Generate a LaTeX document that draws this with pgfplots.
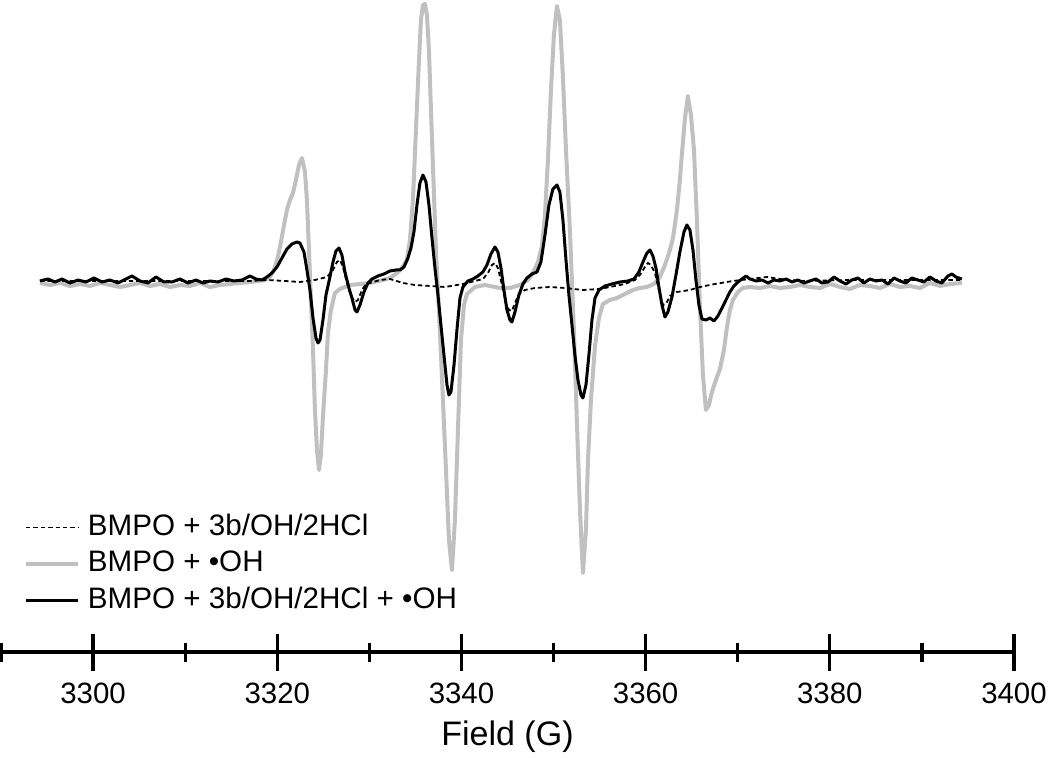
\documentclass[border=0pt]{standalone}
\usepackage{pgfplots}
\pgfplotsset{compat=1.18}
\usepackage{fontspec}
\setmainfont{Liberation Sans}
\definecolor{lgray}{RGB}{192,192,192}
\begin{document}
\begin{tikzpicture}
\useasboundingbox (0,0) rectangle (525pt,378.5pt);
\begin{axis}[
  at={(0.5pt,52.5pt)}, anchor=south west,
  scale only axis, width=506.5pt, height=326pt,
  xmin=3290, xmax=3400, ymin=-370, ymax=282,
  axis x line*=bottom, axis y line=none,
  clip=false,
  scaled x ticks=false,
  xtick={3300,3320,...,3400},
  minor xtick={3290,3310,...,3390},
  tick align=center,
  major tick length=18.5pt, minor tick length=9.5pt,
  every tick/.style={black, line width=1.6pt},
  axis line style={black, line width=1.8pt},
  /pgf/number format/assume math mode=true,
  /pgf/number format/1000 sep={},
  xticklabel style={font=\fontsize{14.7}{17}\selectfont, anchor=base, yshift=-16.5pt},
  xlabel={Field (G)},
  xlabel style={font=\fontsize{17}{20}\selectfont, at={(axis description cs:0.5,0)}, anchor=base, yshift=-46.5pt},
  legend style={at={(0.0227,0.219)}, anchor=north west, draw=none, fill=none,
    inner sep=0pt, outer sep=0pt, font=\fontsize{14.8}{17}\selectfont,
    nodes={inner sep=2.5pt, text height=10.6pt, text depth=2.65pt},
    row sep=0pt, column sep=1.5pt},
  legend cell align=left,
  legend image code/.code={\draw[#1] (0pt,0pt) -- (26pt,0pt);},
]
% BMPO + .OH (gray)
\addplot[lgray, line width=2pt, line join=round, forget plot] table {
3294.23 -1
3295.32 -3
3296.40 -1
3297.49 -4
3298.58 -2
3299.66 -4
3300.75 -1
3301.83 -3
3302.92 -5
3304.01 -3
3305.09 -1
3306.18 -4
3307.26 -2
3308.35 -5
3309.43 -3
3310.52 -4
3311.61 -1
3312.69 -5
3313.78 -3
3314.86 -2
3315.95 -1
3317.04 0
3317.90 1
3318.66 2
3319.21 5
3319.64 12
3320.07 25
3320.40 40
3320.73 57
3321.05 72
3321.38 82
3321.70 89
3322.03 102
3322.36 117
3322.68 124
3323.01 110
3323.22 82
3323.44 32
3323.66 -18
3323.88 -68
3324.09 -128
3324.31 -168
3324.53 -188
3324.74 -173
3324.96 -135
3325.29 -88
3325.50 -51
3325.83 -28
3326.26 -11
3326.81 -7
3327.35 -5
3327.89 -3
3328.98 -2
3330.06 -1
3331.48 2
3332.24 4
3333.00 9
3333.54 14
3334.08 22
3334.41 42
3334.73 82
3335.06 152
3335.39 222
3335.60 262
3335.82 277
3336.04 278
3336.25 267
3336.47 232
3336.69 172
3336.91 115
3337.23 32
3337.67 -51
3337.99 -118
3338.32 -188
3338.64 -258
3338.97 -288
3339.29 -238
3339.62 -148
3339.95 -58
3340.27 -23
3340.60 -12
3341.47 -5
3342.55 -3
3344.18 -6
3345.27 -6
3346.35 -3
3347.22 2
3347.76 9
3348.31 20
3348.74 36
3349.07 67
3349.39 122
3349.72 192
3350.04 247
3350.37 276
3350.69 262
3351.02 205
3351.35 132
3351.78 51
3352.21 -48
3352.54 -141
3352.87 -228
3353.19 -291
3353.52 -248
3353.73 -180
3354.06 -118
3354.50 -64
3354.93 -36
3355.36 -22
3356.12 -18
3356.88 -16
3357.75 -12
3358.62 -8
3359.38 -6
3360.14 -5
3360.90 -2
3361.55 5
3362.10 17
3362.64 32
3362.97 44
3363.40 72
3363.72 102
3363.94 128
3364.27 164
3364.59 186
3364.92 167
3365.25 132
3365.57 62
3365.90 -26
3366.22 -93
3366.55 -128
3366.87 -123
3367.20 -110
3367.63 -98
3368.07 -87
3368.50 -68
3368.83 -45
3369.15 -28
3369.48 -18
3370.02 -10
3370.56 -6
3371.33 -5
3372.41 -6
3373.50 -4
3374.58 -6
3375.67 -5
3376.75 -3
3377.84 -5
3378.93 -6
3380.01 -2
3381.10 -5
3382.18 -7
3383.27 -3
3384.35 -4
3385.44 -6
3386.53 -2
3387.61 -5
3388.70 -4
3389.78 -6
3390.87 -1
3391.96 -4
3393.04 -2
3394.34 -1
};
% BMPO + 3b/OH/2HCl (dashed)
\addplot[black, line width=0.9pt, dash pattern=on 2.2pt off 1.5pt, forget plot] table {
3294.23 1
3300.75 1
3306.18 1
3311.61 1
3317.04 1
3318.88 2
3320.84 1
3322.46 0
3324.09 2
3325.40 5
3326.05 12
3326.48 20
3326.81 22
3327.13 15
3327.57 -1
3328.00 -14
3328.44 -20
3328.76 -18
3329.20 -8
3329.63 -2
3330.06 -1
3331.15 2
3332.24 3
3333.65 -1
3334.95 -3
3336.58 -4
3338.21 -5
3340.16 -2
3341.47 1
3342.33 3
3342.88 9
3343.31 17
3343.64 19
3343.96 14
3344.40 -3
3344.83 -21
3345.16 -28
3345.48 -29
3345.81 -21
3346.24 -12
3346.89 -8
3347.98 -6
3349.61 -5
3351.24 -6
3353.19 -8
3355.04 -7
3356.12 -5
3357.75 -2
3358.84 2
3359.38 7
3359.92 15
3360.25 19
3360.58 17
3361.01 9
3361.44 -8
3361.88 -23
3362.20 -22
3362.64 -14
3363.40 -10
3364.81 -8
3365.90 -5
3367.52 -2
3369.48 1
3371.33 3
3373.17 5
3374.58 3
3376.75 1
3382.18 2
3387.61 2
3394.34 2
};
% BMPO + 3b/OH/2HCl + .OH (black)
\addplot[black, line width=1.5pt, line join=round, forget plot] table {
3294.23 1
3295.10 3
3295.86 0
3296.62 3
3297.49 -1
3298.36 2
3299.23 0
3300.10 4
3300.97 0
3301.83 2
3302.70 -1
3303.57 3
3304.22 6
3305.09 1
3305.96 -1
3306.83 5
3307.70 0
3308.57 0
3309.43 3
3310.30 -1
3311.17 2
3311.93 -1
3312.69 1
3313.56 0
3314.43 3
3315.30 1
3316.17 2
3317.04 6
3317.69 3
3318.34 2
3318.88 5
3319.42 9
3319.97 15
3320.51 24
3321.05 33
3321.60 38
3322.14 40
3322.46 39
3322.90 30
3323.22 12
3323.55 -8
3323.88 -36
3324.20 -56
3324.42 -61
3324.64 -58
3324.96 -38
3325.29 -13
3325.72 5
3326.05 20
3326.37 31
3326.70 34
3327.02 27
3327.35 10
3327.78 -6
3328.11 -16
3328.44 -28
3328.65 -30
3328.98 -23
3329.41 -10
3329.85 -1
3330.28 3
3330.93 6
3331.59 8
3332.24 11
3332.89 12
3333.32 12
3333.76 15
3334.19 24
3334.52 34
3334.84 50
3335.17 77
3335.49 99
3335.82 107
3336.15 100
3336.47 77
3336.80 44
3337.12 14
3337.45 -13
3337.77 -43
3338.10 -73
3338.43 -103
3338.64 -113
3338.86 -110
3339.19 -83
3339.51 -48
3339.84 -16
3340.16 -5
3340.71 1
3341.25 3
3341.79 6
3342.33 10
3342.77 17
3343.20 28
3343.64 35
3343.96 30
3344.29 14
3344.61 -8
3344.94 -28
3345.27 -38
3345.48 -40
3345.81 -30
3346.24 -13
3346.68 -2
3347.11 4
3347.65 8
3348.20 10
3348.63 20
3349.07 47
3349.50 77
3349.93 93
3350.37 97
3350.69 90
3351.02 62
3351.35 22
3351.67 -13
3352.00 -43
3352.32 -73
3352.65 -98
3352.98 -113
3353.19 -116
3353.52 -103
3353.84 -73
3354.17 -38
3354.50 -16
3354.93 -8
3355.58 -4
3356.34 -2
3357.21 0
3358.08 1
3358.73 3
3359.27 10
3359.71 20
3360.14 29
3360.47 32
3360.79 26
3361.12 14
3361.44 -5
3361.77 -23
3362.10 -35
3362.42 -30
3362.86 -15
3363.29 7
3363.72 30
3364.16 50
3364.48 57
3364.81 52
3365.14 32
3365.46 2
3365.79 -23
3366.11 -37
3366.55 -38
3366.98 -36
3367.42 -39
3367.85 -34
3368.29 -26
3368.72 -18
3369.15 -10
3369.59 -4
3370.02 0
3370.46 3
3370.89 6
3371.33 3
3371.98 1
3372.63 2
3373.28 -1
3373.93 2
3374.58 1
3375.23 3
3375.89 0
3376.54 2
3377.19 -1
3377.84 1
3378.49 3
3379.14 -1
3379.79 0
3380.45 5
3381.10 1
3381.75 -2
3382.40 2
3383.05 4
3383.70 -1
3384.35 3
3385.01 1
3385.66 2
3386.31 -2
3386.96 4
3387.61 1
3388.26 -1
3388.91 4
3389.57 2
3390.22 0
3390.87 5
3391.52 1
3392.17 -1
3392.82 6
3393.26 8
3393.69 5
3394.34 3
};
\addlegendimage{black, line width=0.9pt, dash pattern=on 2.2pt off 1.5pt}
\addlegendentry{BMPO + 3b/OH/2HCl}
\addlegendimage{lgray, line width=2pt}
\addlegendentry{BMPO + •OH}
\addlegendimage{black, line width=1.5pt}
\addlegendentry{BMPO + 3b/OH/2HCl + •OH}
\end{axis}
\end{tikzpicture}
\end{document}
